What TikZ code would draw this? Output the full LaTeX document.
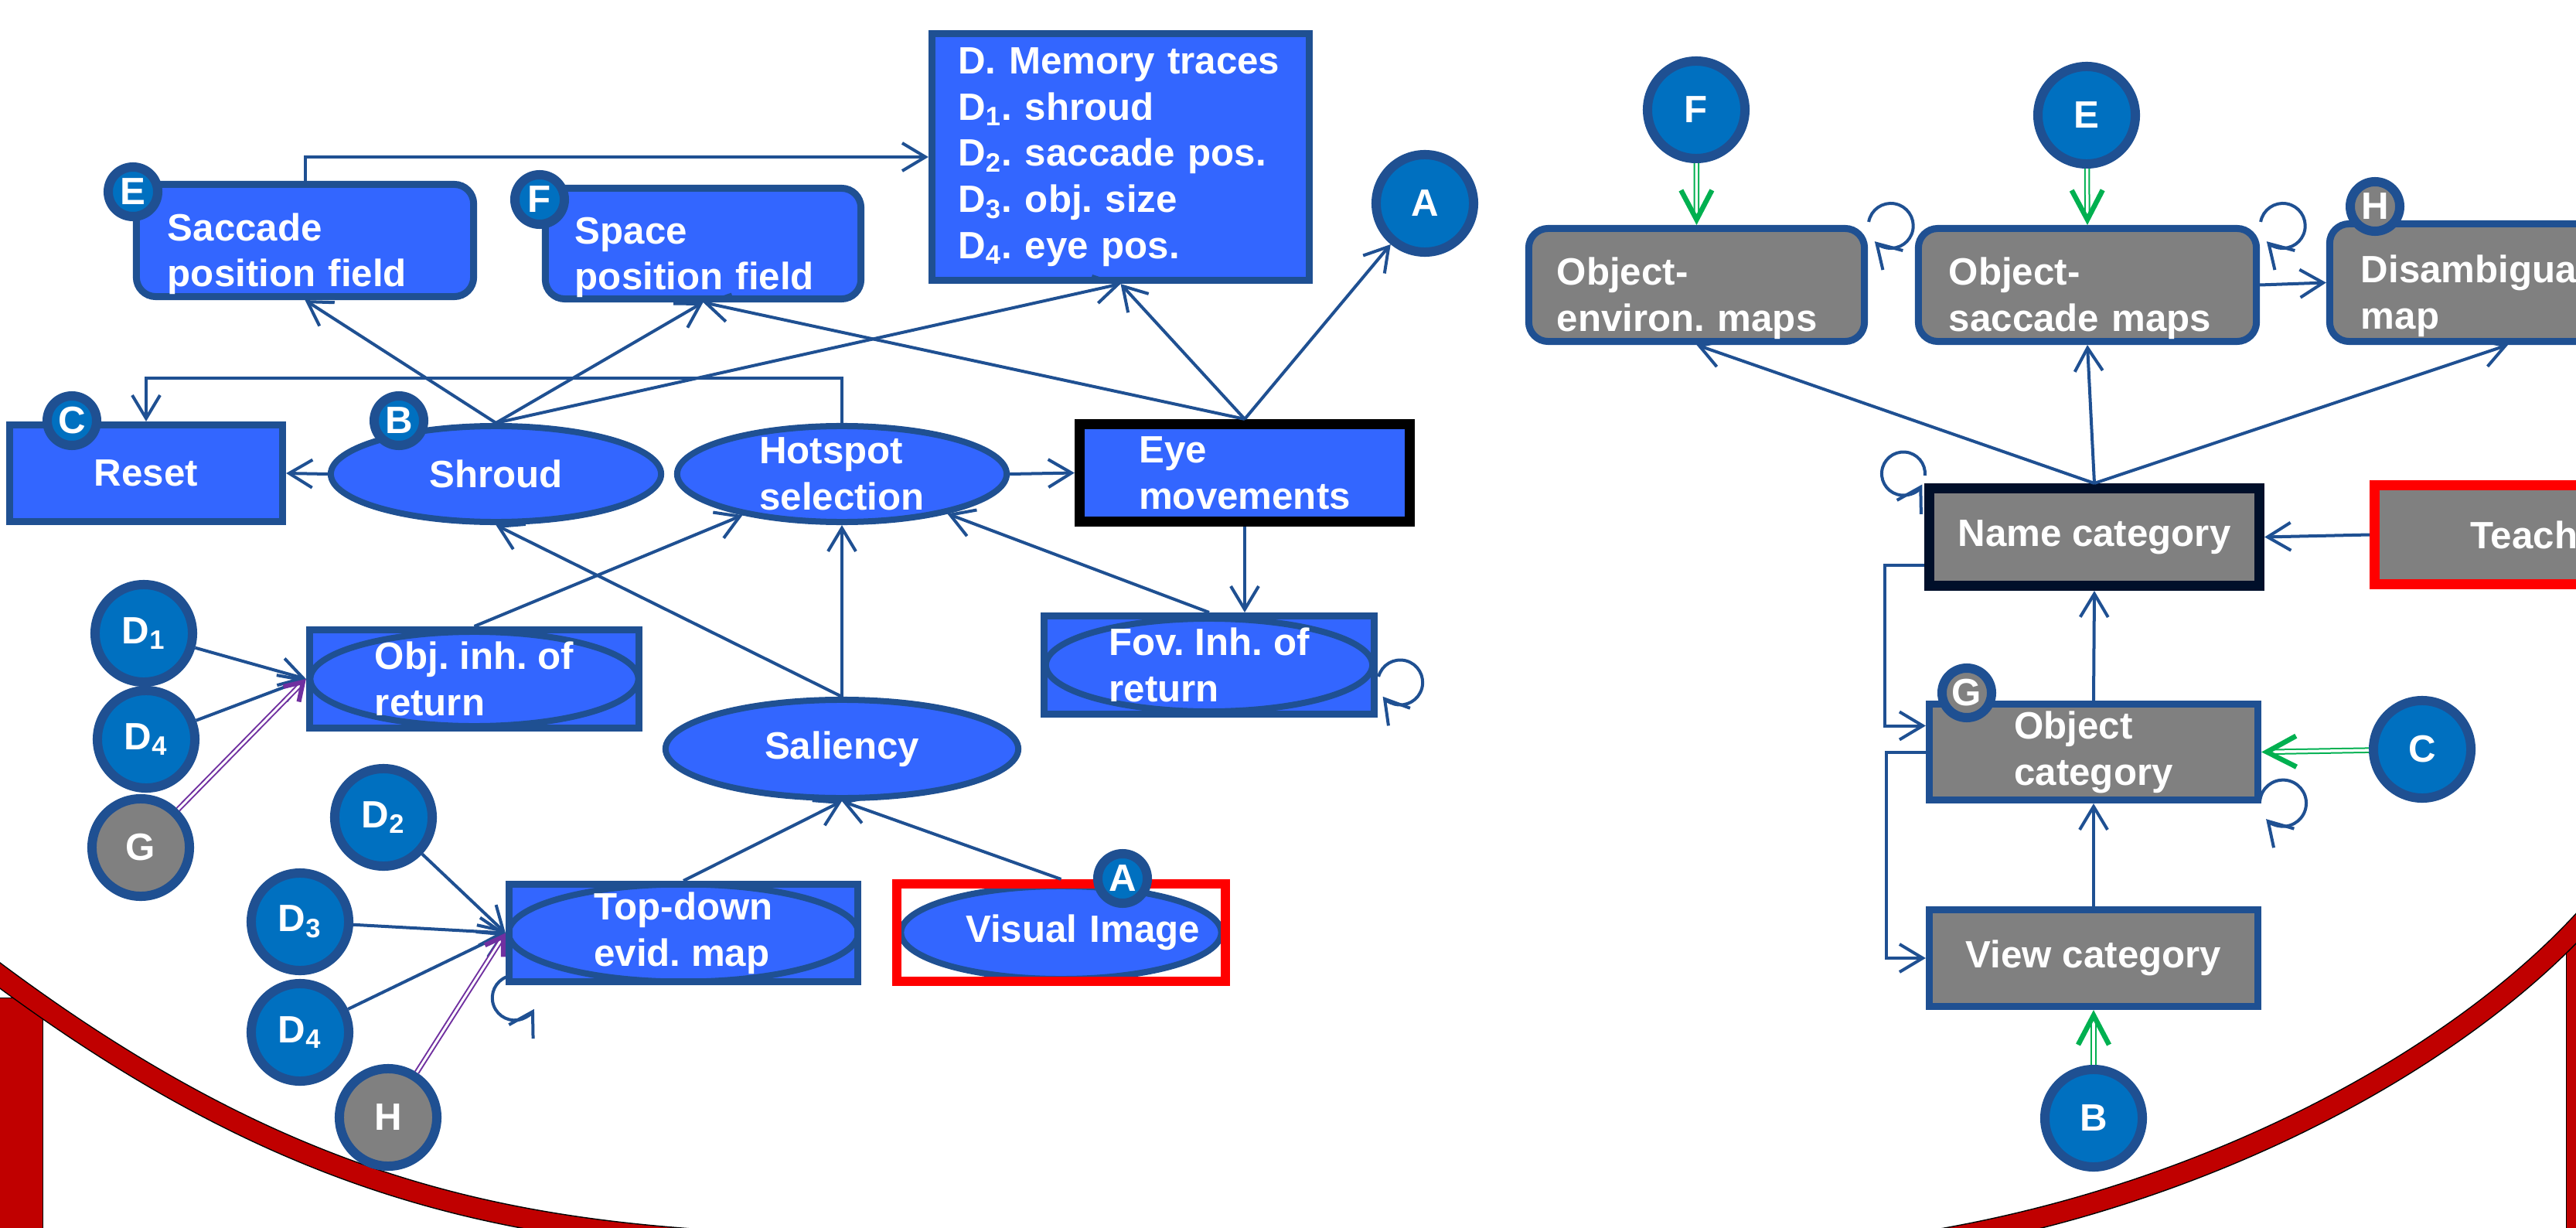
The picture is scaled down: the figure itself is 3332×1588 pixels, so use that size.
\documentclass[tikz,border=0pt]{standalone}
\usepackage{fontspec}
\setmainfont{Liberation Sans}
\usetikzlibrary{arrows.meta,calc,shapes.geometric}

\definecolor{bfill}{HTML}{3366FF}
\definecolor{bline}{HTML}{1F5092}
\definecolor{cfill}{HTML}{0070C0}
\definecolor{gfill}{HTML}{808080}
\definecolor{grn}{HTML}{00B050}
\definecolor{purp}{HTML}{7030A0}
\definecolor{navy}{HTML}{000F2A}
\definecolor{dred}{HTML}{C00000}

\tikzset{
		txt/.style={text=white, font=\bfseries\fontsize{14}{17}\selectfont\frenchspacing},
		box/.style={
			rectangle, draw=bline, fill=bfill, line width=0.09cm, inner sep=0pt, align=left, txt},
		rbox/.style={box, rounded corners=0.25cm, execute at begin node={\rule{0pt}{0.7cm}}},
		gbox/.style={box, fill=gfill},
		grbox/.style={rbox, fill=gfill},
		oval/.style={
			ellipse, draw=bline, fill=bfill, line width=0.08cm, inner xsep=0pt, inner ysep=-0.1cm, align=left, txt},
		boxring/.style 2 args={box,
			path picture={\draw[bline, line width=0.08cm] (path picture bounding box.center) ellipse [x radius=#1, y radius=#2];}},
		disc/.style={
			circle, draw=bline, fill=cfill, line width=0.12cm, minimum size=1.26cm, inner sep=0pt, txt},
		tag/.style={disc, minimum size=0.64cm},
		conn/.style={draw=bline, line width=0.04cm, ->},
		teach/.style={draw=grn, double=white, double distance=0.035cm, line width=0.02cm,
			-{Straight Barb[length=0.38cm, width=0.4cm, line width=0.065cm]}},
		prime/.style={draw=purp, double=white, double distance=0.03cm, line width=0.02cm,
			-{Straight Barb[length=0.22cm, width=0.28cm, line width=0.06cm]}},
	}
\def\lw{0.13cm}

\begin{document}
\begin{tikzpicture}[
			x=0.01cm, y=0.01cm, >={Straight Barb[length=0.3cm, width=0.36cm]}]
			\useasboundingbox (0,0) rectangle (3332,-1588);
			\clip (0,0) rectangle (3332,-1588);
			\fill[dred, draw=black, line width=0.01cm] (-10,-1290) rectangle (55,-1600);
			\fill[dred, draw=black, line width=0.01cm] (3319,-1215) rectangle (3345,-1600);
			\draw[black, line width=0.28cm] (-30,-1239) .. controls (430,-1590) and (750,-1608) .. (1200,-1612);
			\draw[dred, line width=0.25cm] (-30,-1239) .. controls (430,-1590) and (750,-1608) .. (1200,-1612);
			\draw[black, line width=0.28cm] (2380,-1620) .. controls (2800,-1580) and (3180,-1380) .. (3360,-1170);
			\draw[dred, line width=0.25cm] (2380,-1620) .. controls (2800,-1580) and (3180,-1380) .. (3360,-1170);

			\node[box, minimum width=4.88cm, minimum height=3.19cm, text width=4.2cm] (mem) at (1449.5,-203)
				{D. Memory traces\\D\textsubscript{1}. shroud\\D\textsubscript{2}. saccade pos.\\D\textsubscript{3}. obj. size\\D\textsubscript{4}. eye pos.};
			\node[rbox, minimum width=4.36cm, minimum height=1.45cm, text width=3.55cm] (sacc) at (394.5,-311) {Saccade\\position field};
			\node[rbox, minimum width=4.08cm, minimum height=1.43cm, text width=3.31cm] (space) at (909.5,-315) {Space\\position field};
			\node[box, minimum width=3.53cm, minimum height=1.25cm] (reset) at (189,-612) {Reset};
			\node[oval, minimum width=4.27cm, minimum height=1.24cm] (shroud) at (641.5,-613) {Shroud};
			\node[oval, minimum width=4.26cm, minimum height=1.24cm] (hot) at (1089,-613) {Hotspot\\selection};
			\node[box, draw=black, line width=\lw, minimum width=4.27cm, minimum height=1.26cm] (eye) at (1610,-611.5) {Eye\\movements};
			\node[disc] (a) at (1843,-263) {A};
			\node[boxring={2.12cm}{0.61cm}, minimum width=4.26cm, minimum height=1.27cm] (inh) at (613.5,-878) {Obj. inh. of\\return};
			\node[boxring={2.11cm}{0.60cm}, minimum width=4.27cm, minimum height=1.27cm] (fov) at (1564,-860) {Fov. Inh. of\\return};
			\node[oval, minimum width=4.56cm, minimum height=1.27cm] (sal) at (1089,-968.5) {Saliency};
			\node[boxring={2.26cm}{0.63cm}, minimum width=4.51cm, minimum height=1.26cm] (td) at (884,-1206.5) {Top-down\\evid. map};
			\node[box, draw=red, fill=white, line width=0.12cm, minimum width=4.25cm, minimum height=1.26cm, text width=3.59cm, align=right,
				path picture={\filldraw[fill=bfill, draw=bline, line width=0.08cm] (path picture bounding box.center) ellipse [x radius=2.07cm, y radius=0.6cm];}]
				(vis) at (1372.5,-1206) {Visual Image};
			\node[disc] (d1) at (186,-819) {D\textsubscript{1}};
			\node[disc] (d4a) at (189,-956) {D\textsubscript{4}};
			\node[disc, fill=gfill] (g) at (182,-1096) {G};
			\node[disc] (d2) at (496,-1057) {D\textsubscript{2}};
			\node[disc] (d3) at (388,-1192) {D\textsubscript{3}};
			\node[disc] (d4b) at (388,-1335) {D\textsubscript{4}};
			\node[disc, fill=gfill] (h) at (502,-1445) {H};

			\node[disc] (f) at (2194,-142) {F};
			\node[disc] (e) at (2699,-149) {E};
			\node[grbox, minimum width=4.34cm, minimum height=1.46cm, text width=3.61cm] (env) at (2194.5,-368.5) {Object-\\environ. maps};
			\node[grbox, minimum width=4.37cm, minimum height=1.46cm, text width=3.58cm] (sac) at (2700,-368.5) {Object-\\saccade maps};
			\node[grbox, minimum width=4.61cm, minimum height=1.52cm, text width=3.8cm] (dis) at (3244,-365.5) {Disambiguation\\map};
			\node[gbox, draw=navy, line width=\lw, minimum width=4.27cm, minimum height=1.26cm] (ncat) at (2709,-694.5) {Name category};
			\node[gbox, draw=red, line width=\lw, minimum width=4.33cm, minimum height=1.28cm] (teacher) at (3288,-691.5) {Teacher};
			\node[gbox, minimum width=4.25cm, minimum height=1.24cm] (ocat) at (2708,-972.5) {Object\\category};
			\node[gbox, minimum width=4.25cm, minimum height=1.25cm] (vcat) at (2708,-1239) {View category};
			\node[disc] (c) at (3133,-969) {C};
			\node[disc] (b) at (2708,-1446) {B};

			\node[tag] (te) at (172,-248) {E};
			\node[tag] (tf) at (698,-258) {F};
			\node[tag] (tc) at (93,-544) {C};
			\node[tag] (tb) at (516,-544) {B};
			\node[tag] (ta) at (1452,-1136) {A};
			\node[tag, fill=gfill] (th) at (3072,-267) {H};
			\node[tag, fill=gfill] (tg) at (2544,-896) {G};

			\draw[conn] (sacc.north) |- (mem.west);
			\draw[conn] (hot.north) -- ++(0,58) -| (reset.north);
			\draw[conn] (shroud.west) -- (reset.east);
			\draw[conn] (shroud.north) -- (sacc.south);
			\draw[conn] (shroud.north) -- (space.south);
			\draw[conn] (shroud.north) -- (mem.south);
			\draw[conn] (eye.north) -- (mem.south);
			\draw[conn] (eye.north) -- (a);
			\draw[conn] (eye.north) -- (space.south);
			\draw[conn] (hot.east) -- (eye.west);
			\draw[conn] (eye.south) -- (eye.south |- fov.north);
			\draw[conn] (fov.north) -- (hot);
			\draw[conn] (inh.north) -- (hot);
			\draw[conn] (sal.north) -- (hot.south);
			\draw[conn] (sal.north) -- (shroud.south);
			\draw[conn] (td.north) -- (sal.south);
			\draw[conn] (vis.north) -- (sal.south);
			\draw[conn] (d1) -- (inh.west);
			\draw[conn] (d4a) -- (inh.west);
			\draw[prime] (g) -- (inh.west);
			\draw[conn] (d2) -- (td.west);
			\draw[conn] (d3) -- (td.west);
			\draw[conn] (d4b) -- (td.west);
			\draw[prime] (h) -- (td.west);
			\draw[conn] ([shift={(1,-15)}]fov.east) arc[start angle=165, end angle=-141, radius=0.29cm];
			\draw[conn] ([shift={(2,11)}]td.south west) arc[start angle=110, end angle=330, radius=0.29cm];

			\draw[teach] (f) -- (env.north);
			\draw[teach] (e) -- (sac.north);
			\draw[conn] (sac.east) -- (dis.west);
			\draw[conn] (ncat.north) -- (env.south);
			\draw[conn] (ncat.north) -- (sac.south);
			\draw[conn] (ncat.north) -- (dis.south);
			\draw[conn] (teacher.west) -- (ncat.east);
			\draw[conn] (ocat.north) -- (ncat.south);
			\draw[conn] (vcat.north) -- (ocat.south);
			\draw[conn] ($(ncat.west)+(0,-36)$) -- ++(-51,0) |- ($(ocat.west)+(0,34)$);
			\draw[conn] (ocat.west) -- ++(-51,0) |- (vcat.west);
			\draw[teach] (c) -- (ocat.east);
			\draw[teach] (b) -- (vcat.south);
			\draw[conn] ([shift={(1,4)}]env.north east) arc[start angle=170, end angle=-136, radius=0.29cm];
			\draw[conn] ([shift={(1,4)}]sac.north east) arc[start angle=170, end angle=-136, radius=0.29cm];
			\draw[conn] ([shift={(1,10)}]ncat.north west) arc[start angle=-5, end angle=330, radius=0.28cm];
			\draw[conn] ([shift={(-2,3)}]ocat.south east) arc[start angle=175, end angle=-137, radius=0.3cm];
			\end{tikzpicture}
\end{document}
